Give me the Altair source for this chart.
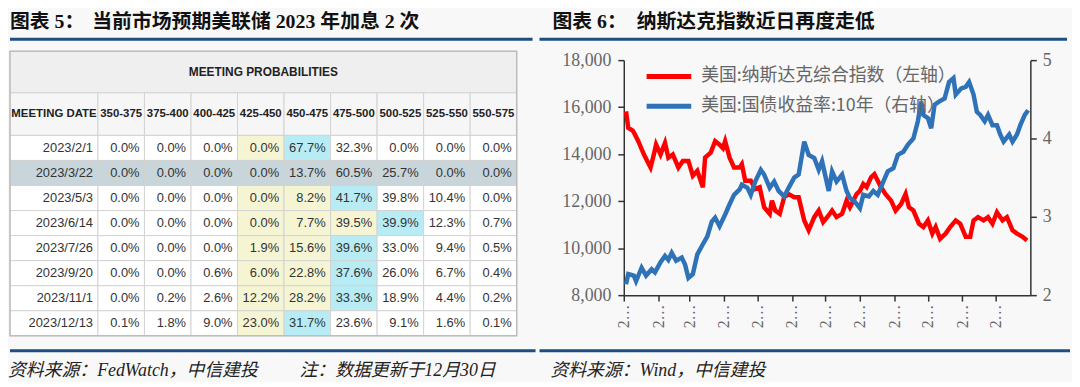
import altair as alt
import pandas as pd

# ---------------- fonts / colours ----------------
CJK = "Noto Sans CJK SC"
SERIF = "Liberation Serif, Noto Sans CJK SC"
TABLE_FONT = "Liberation Sans"
RULE_BLUE = "#1f4f80"
BG = "#f8f8f8"

# ---------------- table data (CME FedWatch) ----------------
meeting_dates = ["2023/2/1", "2023/3/22", "2023/5/3", "2023/6/14",
                 "2023/7/26", "2023/9/20", "2023/11/1", "2023/12/13"]
rate_ranges = ["350-375", "375-400", "400-425", "425-450", "450-475",
               "475-500", "500-525", "525-550", "550-575"]
p_0201 = [0.0, 0.0, 0.0, 0.0, 67.7, 32.3, 0.0, 0.0, 0.0]
p_0322 = [0.0, 0.0, 0.0, 0.0, 13.7, 60.5, 25.7, 0.0, 0.0]
p_0503 = [0.0, 0.0, 0.0, 0.0, 8.2, 41.7, 39.8, 10.4, 0.0]
p_0614 = [0.0, 0.0, 0.0, 0.0, 7.7, 39.5, 39.9, 12.3, 0.7]
p_0726 = [0.0, 0.0, 0.0, 1.9, 15.6, 39.6, 33.0, 9.4, 0.5]
p_0920 = [0.0, 0.0, 0.6, 6.0, 22.8, 37.6, 26.0, 6.7, 0.4]
p_1101 = [0.0, 0.2, 2.6, 12.2, 28.2, 33.3, 18.9, 4.4, 0.2]
p_1213 = [0.1, 1.8, 9.0, 23.0, 31.7, 23.6, 9.1, 1.6, 0.1]
prob_rows = [p_0201, p_0322, p_0503, p_0614, p_0726, p_0920, p_1101, p_1213]
selected_date = "2023/3/22"
current_range = "425-450"

# ---------------- line chart data ----------------
nasdaq_dates = [
    "2022-01-03", "2022-01-05", "2022-01-09", "2022-01-11", "2022-01-14", "2022-01-19",
    "2022-01-25", "2022-01-28", "2022-01-30", "2022-02-03", "2022-02-07", "2022-02-10",
    "2022-02-14", "2022-02-19", "2022-02-23", "2022-02-28", "2022-03-04", "2022-03-08",
    "2022-03-13", "2022-03-15", "2022-03-20", "2022-03-24", "2022-03-28", "2022-03-31",
    "2022-04-02", "2022-04-06", "2022-04-10", "2022-04-15", "2022-04-17", "2022-04-20",
    "2022-04-25", "2022-04-29", "2022-05-03", "2022-05-07", "2022-05-12", "2022-05-14",
    "2022-05-17", "2022-05-21", "2022-05-25", "2022-05-29", "2022-06-03", "2022-06-07",
    "2022-06-12", "2022-06-16", "2022-06-21", "2022-06-25", "2022-06-29", "2022-07-04",
    "2022-07-07", "2022-07-11", "2022-07-16", "2022-07-20", "2022-07-23", "2022-07-26",
    "2022-07-29", "2022-08-01", "2022-08-04", "2022-08-07", "2022-08-11", "2022-08-14",
    "2022-08-17", "2022-08-20", "2022-08-24", "2022-08-29", "2022-09-02", "2022-09-07",
    "2022-09-11", "2022-09-14", "2022-09-18", "2022-09-23", "2022-09-27", "2022-10-01",
    "2022-10-05", "2022-10-08", "2022-10-12", "2022-10-17", "2022-10-21", "2022-10-26",
    "2022-10-30", "2022-11-04", "2022-11-08", "2022-11-11", "2022-11-15", "2022-11-20",
    "2022-11-24", "2022-11-28", "2022-12-02", "2022-12-07", "2022-12-11", "2022-12-16",
    "2022-12-20", "2022-12-25", "2022-12-29"]
nasdaq_values = [
    15820, 15120, 15000, 14840, 14550, 13990,
    13430, 13990, 14410, 13990, 14480, 13850,
    13990, 13430, 13710, 13710, 13080, 13290,
    12590, 13850, 14060, 14550, 14400, 14250,
    14550, 13850, 13430, 13430, 13570, 12870,
    12870, 12520, 12590, 11740, 11460, 12020,
    11600, 11460, 12170, 12300, 12170, 12170,
    11180, 10760, 11320, 11600, 11110, 11400,
    11600, 11320, 11460, 12020, 11740, 12020,
    12300, 12440, 12730, 12590, 13010, 13150,
    12870, 12590, 12300, 12020, 11600, 11880,
    12300, 11740, 11600, 11040, 10900, 11180,
    10620, 10900, 10400, 10620, 10900, 11180,
    11040, 10480, 10480, 11180, 11320, 11180,
    11320, 11040, 11530, 11180, 11320, 10760,
    10620, 10480, 10330]

yield_dates = [
    "2022-01-03", "2022-01-05", "2022-01-10", "2022-01-12", "2022-01-17", "2022-01-21",
    "2022-01-26", "2022-01-29", "2022-02-03", "2022-02-07", "2022-02-10", "2022-02-13",
    "2022-02-17", "2022-02-22", "2022-02-25", "2022-02-28", "2022-03-04", "2022-03-08",
    "2022-03-13", "2022-03-17", "2022-03-21", "2022-03-24", "2022-03-28", "2022-04-02",
    "2022-04-06", "2022-04-10", "2022-04-15", "2022-04-17", "2022-04-22", "2022-04-25",
    "2022-04-29", "2022-05-04", "2022-05-07", "2022-05-12", "2022-05-16", "2022-05-20",
    "2022-05-25", "2022-05-29", "2022-06-03", "2022-06-07", "2022-06-12", "2022-06-16",
    "2022-06-21", "2022-06-25", "2022-06-28", "2022-07-04", "2022-07-07", "2022-07-11",
    "2022-07-16", "2022-07-20", "2022-07-23", "2022-07-27", "2022-08-01", "2022-08-04",
    "2022-08-09", "2022-08-13", "2022-08-17", "2022-08-22", "2022-08-26", "2022-08-31",
    "2022-09-04", "2022-09-09", "2022-09-13", "2022-09-18", "2022-09-22", "2022-09-25",
    "2022-09-27", "2022-10-01", "2022-10-04", "2022-10-07", "2022-10-11", "2022-10-16",
    "2022-10-20", "2022-10-24", "2022-10-26", "2022-10-31", "2022-11-04", "2022-11-07",
    "2022-11-11", "2022-11-14", "2022-11-17", "2022-11-21", "2022-11-24", "2022-11-28",
    "2022-12-02", "2022-12-05", "2022-12-08", "2022-12-13", "2022-12-16", "2022-12-20",
    "2022-12-23", "2022-12-27", "2022-12-30"]
yield_values = [
    2.14, 2.27, 2.25, 2.18, 2.35, 2.25,
    2.33, 2.29, 2.42, 2.50, 2.45, 2.54,
    2.44, 2.48, 2.39, 2.22, 2.27, 2.52,
    2.65, 2.75, 2.94, 2.99, 2.88, 3.03,
    3.16, 3.28, 3.35, 3.41, 3.37, 3.28,
    3.45, 3.60, 3.54, 3.37, 3.45, 3.33,
    3.26, 3.37, 3.50, 3.54, 3.96, 3.79,
    3.75, 3.60, 3.71, 3.33, 3.58, 3.45,
    3.54, 3.33, 3.24, 3.20, 3.11, 3.28,
    3.26, 3.33, 3.28, 3.45, 3.58, 3.62,
    3.79, 3.83, 3.92, 4.00, 4.22, 4.47,
    4.30, 4.26, 4.13, 4.43, 4.47, 4.51,
    4.72, 4.77, 4.56, 4.64, 4.66, 4.72,
    4.56, 4.34, 4.30, 4.22, 4.30, 4.17,
    4.17, 4.05, 3.96, 4.05, 3.96, 4.05,
    4.17, 4.30, 4.36]

NAS_LABEL = "美国:纳斯达克综合指数（左轴）"
YLD_LABEL = "美国:国债收益率:10年（右轴）"

LEFT_TITLE_A = "图表 5："
LEFT_TITLE_B = "当前市场预期美联储 2023 年加息 2 次"
RIGHT_TITLE_A = "图表 6："
RIGHT_TITLE_B = "纳斯达克指数近日再度走低"
LEFT_SOURCE = "资料来源：FedWatch，中信建投"
LEFT_NOTE = "注：数据更新于12月30日"
RIGHT_SOURCE = "资料来源：Wind，中信建投"

# ---------------- table construction ----------------
DATE_W = 1.89      # date column width in rate-column units
TITLE_H = 1.66     # title row height in data-row units
HEAD_H = 1.70      # header row height in data-row units
n_cols = len(rate_ranges)
total_h = TITLE_H + HEAD_H + len(meeting_dates)

C_TITLE, C_HEAD, C_SEL, C_CYAN, C_YEL, C_WHITE = (
    "#efefef", "#f6f6f6", "#c8d5da", "#b8ecf5", "#f5f5d4", "#ffffff")

cells, head_txt, body_txt = [], [], []
cells.append(dict(x0=-DATE_W, x1=n_cols, y0=0, y1=TITLE_H, fill=C_TITLE))
head_txt.append(dict(x=(n_cols - DATE_W) / 2, y=TITLE_H / 2, label="MEETING PROBABILITIES", size=12))
hy0, hy1 = TITLE_H, TITLE_H + HEAD_H
cells.append(dict(x0=-DATE_W, x1=0, y0=hy0, y1=hy1, fill=C_HEAD))
head_txt.append(dict(x=-DATE_W / 2, y=(hy0 + hy1) / 2, label="MEETING DATE", size=11.5))
for j, r in enumerate(rate_ranges):
    cells.append(dict(x0=j, x1=j + 1, y0=hy0, y1=hy1, fill=C_HEAD))
    head_txt.append(dict(x=j + 0.5, y=(hy0 + hy1) / 2, label=r, size=11.5))
cur = rate_ranges.index(current_range)
for i, (d, probs) in enumerate(zip(meeting_dates, prob_rows)):
    y0, y1 = hy1 + i, hy1 + i + 1
    sel = d == selected_date
    cells.append(dict(x0=-DATE_W, x1=0, y0=y0, y1=y1, fill=C_SEL if sel else C_WHITE))
    body_txt.append(dict(x=0, y=y0 + 0.5, label=d))
    peak = probs.index(max(probs))
    for j, p in enumerate(probs):
        if sel:
            f = C_SEL
        elif j == peak:
            f = C_CYAN
        elif cur <= j < peak:
            f = C_YEL
        else:
            f = C_WHITE
        cells.append(dict(x0=j, x1=j + 1, y0=y0, y1=y1, fill=f))
        body_txt.append(dict(x=j + 1, y=y0 + 0.5, label=f"{p:.1f}%"))

cells_df = pd.DataFrame(cells)
head_df = pd.DataFrame(head_txt)
body_df = pd.DataFrame(body_txt)
border_df = pd.DataFrame([dict(x0=-DATE_W, x1=n_cols, y0=0, y1=total_h)])

xs = alt.Scale(domain=[-DATE_W, n_cols], nice=False, zero=False)
ys = alt.Scale(domain=[0, total_h], range=[-9, 278], nice=False, zero=False)

rects = alt.Chart(cells_df).mark_rect(stroke="#d2d2d2", strokeWidth=1).encode(
    x=alt.X("x0:Q", scale=xs, axis=None), x2="x1:Q",
    y=alt.Y("y0:Q", scale=ys, axis=None), y2="y1:Q",
    fill=alt.Fill("fill:N", scale=None))
border = alt.Chart(border_df).mark_rect(fillOpacity=0, stroke="#bdbdbd", strokeWidth=1.5).encode(
    x=alt.X("x0:Q", scale=xs, axis=None), x2="x1:Q",
    y=alt.Y("y0:Q", scale=ys, axis=None), y2="y1:Q")
head_text = alt.Chart(head_df).mark_text(
    font=TABLE_FONT, fontWeight="bold", color="#222",
    align="center", baseline="middle").encode(
    x=alt.X("x:Q", scale=xs, axis=None), y=alt.Y("y:Q", scale=ys, axis=None),
    text="label:N", size=alt.Size("size:Q", scale=None, legend=None))
body_text = alt.Chart(body_df).mark_text(
    font=TABLE_FONT, fontSize=13, color="#333",
    align="right", baseline="middle", dx=-5).encode(
    x=alt.X("x:Q", scale=xs, axis=None), y=alt.Y("y:Q", scale=ys, axis=None), text="label:N")


def label_df(s):
    return pd.DataFrame({"label": [s]})


one = pd.DataFrame({"k": [0]})


def heading(text, x, y):
    return alt.Chart(label_df(text)).mark_text(
        font=SERIF, fontSize=20, fontWeight="bold", color="#111",
        align="left", baseline="middle").encode(
        x=alt.value(x), y=alt.value(y), text="label:N")


def footer(text, x, y):
    return alt.Chart(label_df(text)).mark_text(
        font=SERIF, fontSize=18, fontStyle="italic", color="#222",
        align="left", baseline="middle").encode(
        x=alt.value(x), y=alt.value(y), text="label:N")


def hrule(x1, x2, y):
    return alt.Chart(one).mark_rule(color=RULE_BLUE, strokeWidth=3).encode(
        x=alt.value(x1), x2=alt.value(x2), y=alt.value(y))


left = alt.layer(
    rects, border, head_text, body_text,
    heading(LEFT_TITLE_A, 0, -38), heading(LEFT_TITLE_B, 83, -38),
    hrule(0, 527, -21), hrule(0, 530, 293),
    footer(LEFT_SOURCE, -2, 314), footer(LEFT_NOTE, 292, 314),
).properties(width=511, height=278)

# ---------------- line chart ----------------
nas_df = pd.DataFrame({"date": nasdaq_dates, "nasdaq": nasdaq_values, "series": NAS_LABEL})
yld_df = pd.DataFrame({"date": yield_dates, "yield10": yield_values, "series": YLD_LABEL})

axis_common = dict(domainColor="#333", domainWidth=1.5, tickColor="#333", tickWidth=1.5,
                   tickSize=6, labelColor="#666", labelFont="Liberation Serif",
                   grid=False, title=None)

x_enc = alt.X("date:T",
              scale=alt.Scale(domain=[alt.DateTime(year=2022, month=1, date=1),
                                      alt.DateTime(year=2023, month=1, date=1)]),
              axis=alt.Axis(values=[alt.DateTime(year=2022, month=m, date=1) for m in range(1, 13)],
                            format="%Y-%m", labelAngle=-90, labelLimit=26, labelFontSize=16,
                            labelPadding=3, **axis_common))

color_enc = alt.Color("series:N",
                      scale=alt.Scale(domain=[NAS_LABEL, YLD_LABEL], range=["#ff0000", "#2e72b8"]),
                      legend=alt.Legend(title=None, orient="none", legendX=653, legendY=5,
                                        symbolType="M-2.5,0L2.5,0", symbolSize=324,
                                        symbolStrokeWidth=5, labelFont=CJK, labelFontSize=18,
                                        labelColor="#666", labelOffset=21, rowPadding=8,
                                        padding=0, labelLimit=400))

red = alt.Chart(nas_df).mark_line(strokeWidth=4.5).encode(
    x=x_enc,
    y=alt.Y("nasdaq:Q", scale=alt.Scale(domain=[8000, 18000], nice=False, zero=False),
            axis=alt.Axis(values=[8000, 10000, 12000, 14000, 16000, 18000], format=",.0f",
                          labelFontSize=18, labelPadding=7, **axis_common)),
    color=color_enc)
blue = alt.Chart(yld_df).mark_line(strokeWidth=4.5).encode(
    x=x_enc,
    y=alt.Y("yield10:Q", scale=alt.Scale(domain=[2, 5], nice=False, zero=False),
            axis=alt.Axis(orient="right", values=[2, 3, 4, 5], format=".0f",
                          labelFontSize=18, labelPadding=6, **axis_common)),
    color=color_enc)

right = alt.layer(
    red, blue,
    heading(RIGHT_TITLE_A, -72, -38), heading(RIGHT_TITLE_B, 13, -38),
    hrule(-85, 447, -21), hrule(-85, 450, 293),
    footer(RIGHT_SOURCE, -74, 314),
).resolve_scale(y="independent").properties(width=410, height=237)

chart = alt.hconcat(left, right, spacing=0).properties(
    padding={"left": 0, "top": 3, "right": 0, "bottom": 0}
).configure(background=BG).configure_view(stroke=None)

chart.save("out.html", embed_options={"renderer": "svg", "actions": False})
